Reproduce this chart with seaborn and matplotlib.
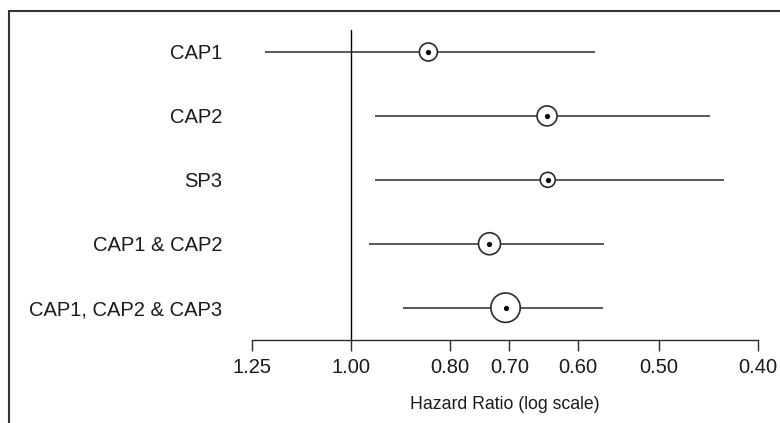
import numpy as np
import pandas as pd
import matplotlib
matplotlib.use("Agg")
import matplotlib.pyplot as plt
from matplotlib.lines import Line2D
import seaborn as sns

# ---- data ----
groups = ["CAP1", "CAP2", "SP3", "CAP1 & CAP2", "CAP1, CAP2 & CAP3"]
hazard_ratio = [0.840, 0.643, 0.642, 0.732, 0.706]
ci_low = [0.577, 0.4455, 0.432, 0.566, 0.567]
ci_high = [1.214, 0.947, 0.947, 0.960, 0.889]
weights = [9.0, 10.0, 7.5, 11.0, 14.7]   # relative study weight (circle radius)
tick_values = [1.25, 1.00, 0.80, 0.70, 0.60, 0.50, 0.40]
tick_labels = ["1.25", "1.00", "0.80", "0.70", "0.60", "0.50", "0.40"]

sns.set_theme(style="white")
plt.rcParams["font.family"] = ["Liberation Sans", "DejaVu Sans"]

df = pd.DataFrame({"group": groups, "hr": hazard_ratio, "lo": ci_low,
                   "hi": ci_high, "w": weights})
df["pos"] = np.arange(len(df))
# marker area in pt^2 from radius in px (dpi 100)
df["s"] = (2 * df["w"] * 0.72) ** 2

fig = plt.figure(figsize=(7.8, 4.23), dpi=100)
ax = fig.add_axes([251.9 / 780, (423 - 339.5) / 423,
                   (757.8 - 251.9) / 780, (339.5 - 30) / 423])

ink = "#2b2b2b"
ax.set_xscale("log")
ax.axvline(1.0, color="black", lw=1.0, zorder=1)
ax.hlines(df["pos"], df["lo"], df["hi"], color=ink, lw=1.1, zorder=2)

sns.scatterplot(data=df, x="hr", y="pos", s=df["s"].values, marker="o",
                facecolor="white", edgecolor=ink, linewidth=1.2, ax=ax,
                zorder=3, legend=False)
sns.scatterplot(data=df, x="hr", y="pos", s=14, marker="o", color="black",
                edgecolor="black", linewidth=0, ax=ax, zorder=4, legend=False)

ax.set_xlim(1.25, 0.40)
ax.set_ylim(len(df) - 1 + 0.498, -0.344)
ax.xaxis.set_major_locator(matplotlib.ticker.FixedLocator(tick_values))
ax.xaxis.set_minor_locator(matplotlib.ticker.NullLocator())
ax.set_xticks(tick_values)
ax.set_xticklabels(tick_labels)
ax.set_yticks(df["pos"])
ax.set_yticklabels(groups)

ax.tick_params(axis="x", length=8, width=1.0, color=ink, pad=5,
               labelsize=14.5, labelcolor="#1a1a1a", direction="out",
               bottom=True)
ax.tick_params(axis="y", length=0, pad=21.5, labelsize=14.5,
               labelcolor="#1a1a1a")
for side in ["top", "right", "left"]:
    ax.spines[side].set_visible(False)
ax.spines["bottom"].set_color(ink)
ax.spines["bottom"].set_linewidth(1.0)

ax.set_xlabel("Hazard Ratio (log scale)", fontsize=12.7, color="#1a1a1a",
              labelpad=14)
ax.set_ylabel("")

# outer frame (top and left edges)
fy = 1 - 10.7 / 423
fx = 9 / 780
fig.add_artist(Line2D([fx, 1.0], [fy, fy], transform=fig.transFigure,
                      color="#333333", lw=1.5))
fig.add_artist(Line2D([fx, fx], [0.0, fy], transform=fig.transFigure,
                      color="#333333", lw=1.5))

fig.savefig("out.png", dpi=100, facecolor="white")
